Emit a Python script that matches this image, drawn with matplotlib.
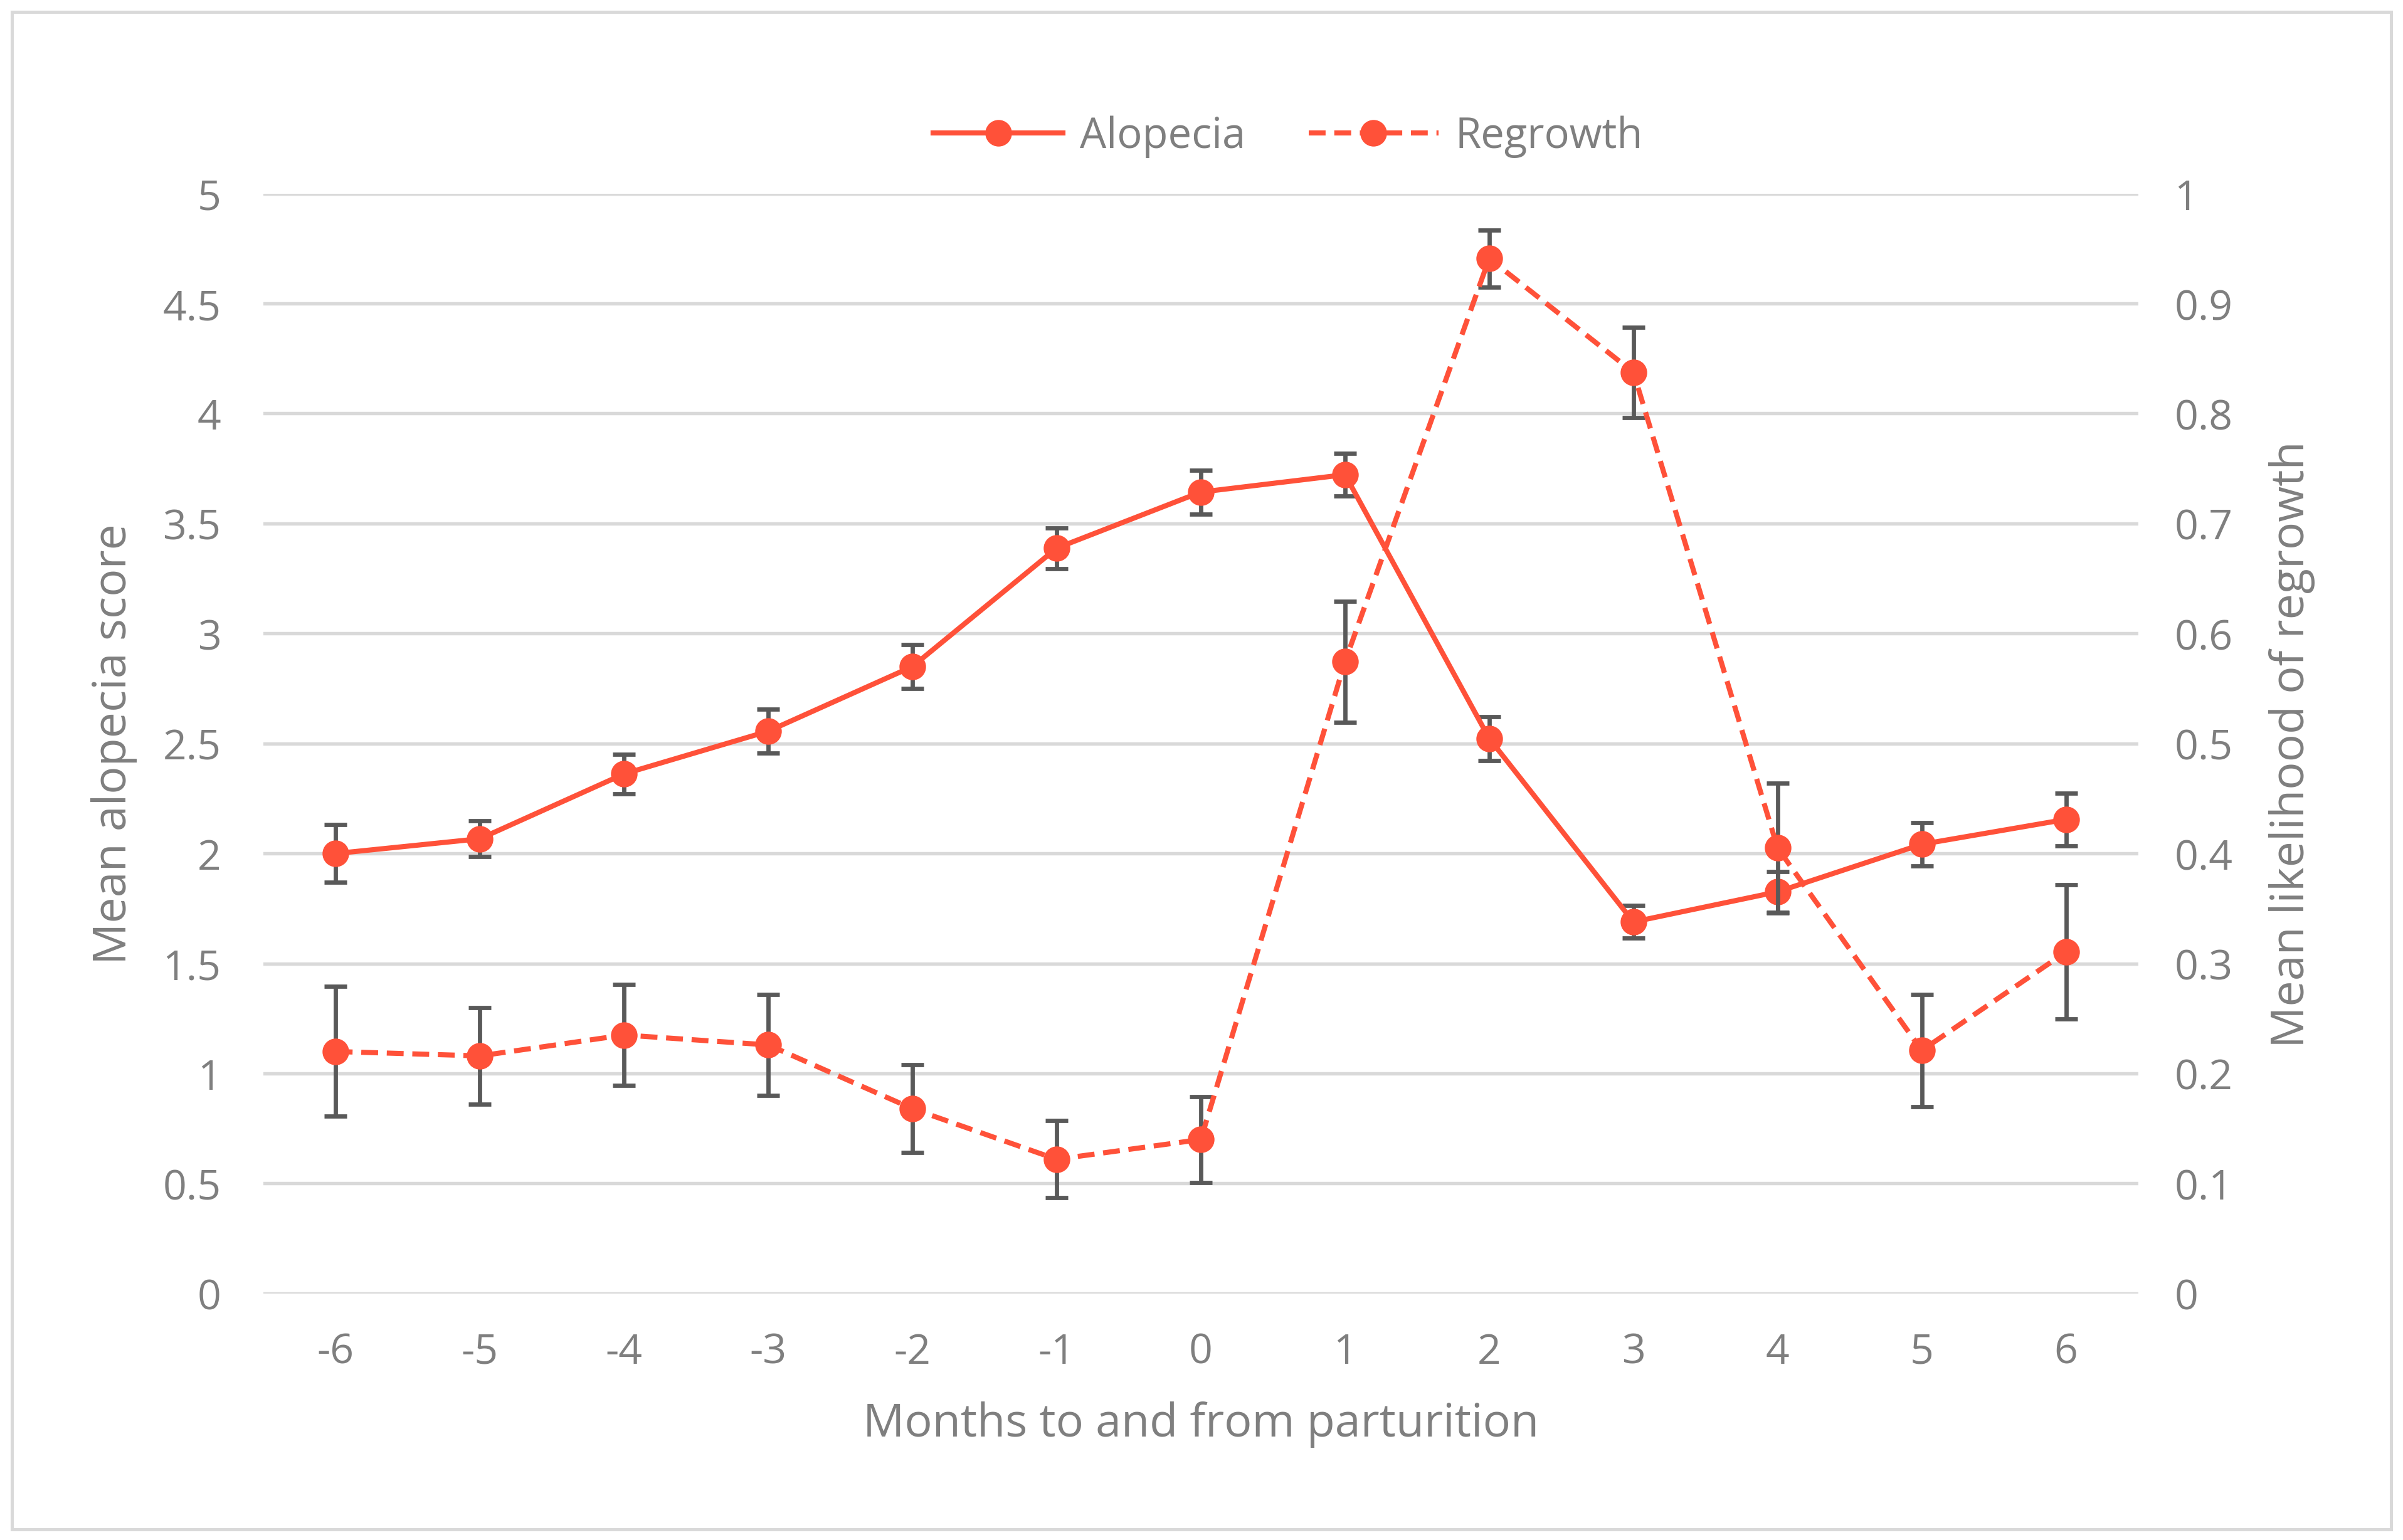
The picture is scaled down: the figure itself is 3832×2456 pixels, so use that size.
import numpy as np
import matplotlib
matplotlib.use("Agg")
import matplotlib.pyplot as plt
from matplotlib.patches import Rectangle
from matplotlib.ticker import MultipleLocator, FuncFormatter

# данные
months = [-6, -5, -4, -3, -2, -1, 0, 1, 2, 3, 4, 5, 6]
alopecia = [2.00, 2.067, 2.362, 2.556, 2.85, 3.388, 3.643, 3.722, 2.523, 1.689, 1.826, 2.042, 2.155]
alopecia_err = [0.131, 0.082, 0.09, 0.10, 0.10, 0.093, 0.10, 0.098, 0.10, 0.074, 0.092, 0.098, 0.12]
regrowth = [0.220, 0.216, 0.235, 0.226, 0.168, 0.122, 0.140, 0.5745, 0.941, 0.8375, 0.405, 0.221, 0.3105]
regrowth_err = [0.059, 0.044, 0.046, 0.046, 0.040, 0.035, 0.039, 0.055, 0.026, 0.041, 0.059, 0.051, 0.061]

RED = '#FF5139'
TXT = '#7F7F7F'
GRID = '#D9D9D9'
ERR = '#595959'

plt.rcParams['font.family'] = ['Open Sans', 'DejaVu Sans']

fig = plt.figure(figsize=(15.68, 10.053), dpi=244.4)
ax = fig.add_axes([0.1097, 0.16, 0.78, 0.714])
ax2 = ax.twinx()

x = np.arange(len(months))

# левая ось - облысение
ax.errorbar(x, alopecia, yerr=alopecia_err, fmt='none', ecolor=ERR,
            elinewidth=2.0, capsize=5.3, capthick=2.0, zorder=3)
ax.plot(x, alopecia, color=RED, lw=2.4, marker='o', markersize=11.5,
        label='Alopecia', zorder=4)

# правая ось - отрастание
ax2.errorbar(x, regrowth, yerr=regrowth_err, fmt='none', ecolor=ERR,
             elinewidth=2.0, capsize=5.3, capthick=2.0, zorder=3)
ax2.plot(x, regrowth, color=RED, lw=2.4, marker='o', markersize=11.5,
         linestyle=(0, (3.3, 1.7)), label='Regrowth', zorder=4)

ax.set_xlim(-0.5, len(months) - 0.5)
ax.set_ylim(0, 5)
ax2.set_ylim(0, 1)
ax.yaxis.set_major_locator(MultipleLocator(0.5))
ax2.yaxis.set_major_locator(MultipleLocator(0.1))
ax.yaxis.set_major_formatter(FuncFormatter(lambda v, p: f'{v:g}'))
ax2.yaxis.set_major_formatter(FuncFormatter(lambda v, p: f'{round(v, 1):g}'))
ax.set_xticks(x)
ax.set_xticklabels([str(m) for m in months])

ax.grid(axis='y', color=GRID, lw=1.6, zorder=0)
ax.set_axisbelow(True)
for a in (ax, ax2):
    for s in a.spines.values():
        s.set_visible(False)
    a.tick_params(length=0, labelsize=19.5, labelcolor=TXT)
ax.tick_params(axis='y', pad=20)
ax.tick_params(axis='x', pad=18)
ax2.tick_params(axis='y', pad=17)

ax.set_xlabel('Months to and from parturition', fontsize=21.7, color=TXT, labelpad=13)
ax.set_ylabel('Mean alopecia score', fontsize=21.7, color=TXT, labelpad=12)
ax2.set_ylabel('Mean likelihood of regrowth', fontsize=21.7, color=TXT, labelpad=17)

h1, l1 = ax.get_legend_handles_labels()
h2, l2 = ax2.get_legend_handles_labels()
fig.legend(h1 + h2, l1 + l2, loc='center', bbox_to_anchor=(0.536, 0.911), ncol=2,
           frameon=False, fontsize=19.7, labelcolor=TXT, handlelength=3.1,
           columnspacing=1.5, handletextpad=0.4)

# рамка вокруг рисунка
fig.patches.append(Rectangle((0.005, 0.007), 0.990, 0.985, transform=fig.transFigure,
                             fill=False, edgecolor=GRID, lw=1.5))

fig.savefig('out.png', dpi=244.4)
